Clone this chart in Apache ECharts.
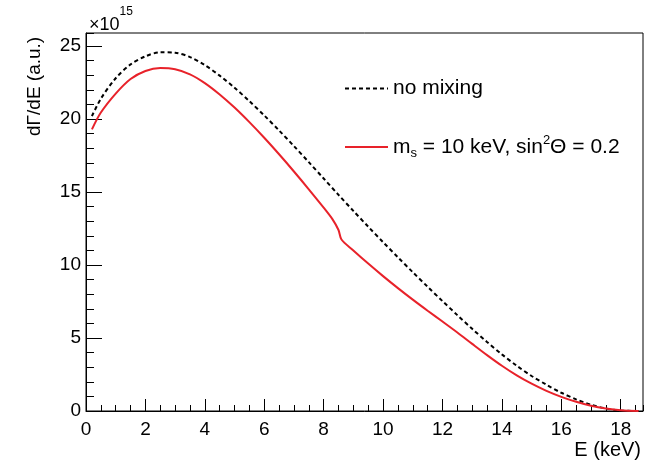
<!DOCTYPE html>
<html>
<head>
<meta charset="utf-8">
<script src="https://cdn.jsdelivr.net/npm/echarts@6/dist/echarts.min.js"></script>
<style>html,body{margin:0;padding:0;background:#fff}#c{width:649px;height:465px}</style>
</head>
<body>
<div id="c"></div>
<script>
// Energy grid (keV) and spectra (units of 1e15, a.u.)
var energyNoMix = [0.2,0.5,1,1.5,2,2.5,3,3.5,4,4.5,5,5.5,6,6.5,7,7.5,8,8.5,9,9.5,10,10.5,11,11.5,12,12.5,13,13.5,14,14.5,15,15.5,16,16.5,17,17.5,18,18.6];
var noMixing   = [20.2,21.4,22.8,23.75,24.3,24.58,24.55,24.25,23.7,22.98,22.15,21.23,20.25,19.22,18.15,17.05,15.93,14.81,13.71,12.63,11.57,10.53,9.51,8.51,7.53,6.57,5.63,4.73,3.88,3.1,2.4,1.8,1.25,0.8,0.43,0.17,0.03,0];

var energyMix = [0.2,0.5,1,1.5,2,2.5,3,3.5,4,4.5,5,5.5,6,6.5,7,7.5,8,8.3,8.5,8.6,9,9.5,10,10.5,11,11.5,12,12.5,13,13.5,14,14.5,15,15.5,16,16.5,17,17.5,18,18.6];
var withMixing = [19.3,20.45,21.75,22.75,23.3,23.5,23.42,23.07,22.47,21.69,20.79,19.79,18.72,17.59,16.41,15.19,13.93,13.13,12.4,11.75,11.0,10.1,9.24,8.42,7.63,6.87,6.13,5.38,4.6,3.83,3.1,2.44,1.87,1.38,0.97,0.63,0.36,0.17,0.05,0];

var xTicks = [0,2,4,6,8,10,12,14,16,18];
var yTicks = [0,5,10,15,20,25];
var xMax = 18.75, yMax = 25.9;

function zip(a,b){ return a.map(function(v,i){ return [v,b[i]]; }); }

var FONT = '"Liberation Sans", Arial, Helvetica, sans-serif';
var chart = echarts.init(document.getElementById('c'), null, {renderer:'canvas'});

var baseX = {
  type:'value', min:0, max:xMax, position:'bottom',
  axisLine:{onZero:false, lineStyle:{color:'#000', width:1}},
  splitLine:{show:false}
};
var baseY = {
  type:'value', min:0, max:yMax, position:'left',
  axisLine:{onZero:false, lineStyle:{color:'#000', width:1}},
  splitLine:{show:false}
};

chart.setOption({
  animation:false,
  backgroundColor:'#fff',
  grid:{left:86, right:6, top:33, bottom:54, show:true, borderColor:'#000', borderWidth:1, backgroundColor:'transparent'},
  title:{
    text:'{a|×10}{b|15}', left:84, top:1,
    textStyle:{fontWeight:'normal', rich:{
      a:{fontFamily:FONT, fontSize:18, fontWeight:'normal', color:'#000', verticalAlign:'bottom', lineHeight:28},
      b:{fontFamily:FONT, fontSize:12, fontWeight:'normal', color:'#000', verticalAlign:'top', lineHeight:28}
    }}
  },
  xAxis:[
    Object.assign({}, baseX, {
      interval:2,
      axisTick:{inside:true, length:12, lineStyle:{color:'#000'}},
      axisLabel:{showMaxLabel:false, margin:9, color:'#000', fontFamily:FONT, fontSize:19,
        formatter:function(v){ return xTicks.indexOf(v) >= 0 ? String(v) : ''; }}
    }),
    Object.assign({}, baseX, {
      interval:0.5,
      axisLine:{show:false},
      axisTick:{inside:true, length:6, lineStyle:{color:'#000'}},
      axisLabel:{show:false}
    })
  ],
  yAxis:[
    Object.assign({}, baseY, {
      interval:5,
      axisTick:{inside:true, length:16, lineStyle:{color:'#000'}},
      axisLabel:{showMaxLabel:false, margin:5, color:'#000', fontFamily:FONT, fontSize:19,
        formatter:function(v){ return yTicks.indexOf(v) >= 0 ? String(v) : ''; }}
    }),
    Object.assign({}, baseY, {
      interval:1,
      axisLine:{show:false},
      axisTick:{inside:true, length:8, lineStyle:{color:'#000'}},
      axisLabel:{show:false}
    })
  ],
  legend:[
    {
      data:['no mixing'], left:339, top:73, itemWidth:43, itemHeight:14,
      itemStyle:{opacity:0},
      textStyle:{fontFamily:FONT, fontSize:21, color:'#000', padding:[0,0,0,0]}
    },
    {
      data:['sterile'], left:339, top:129, itemWidth:43, itemHeight:14,
      itemStyle:{opacity:0},
      formatter:function(){ return '{a|m}{s|s}{a| = 10 keV, sin}{p|2}{a|Θ = 0.2}'; },
      textStyle:{fontFamily:FONT, fontSize:21, color:'#000', padding:[0,0,0,0],
        rich:{
          a:{fontFamily:FONT, fontSize:21, color:'#000', lineHeight:26, verticalAlign:'middle'},
          s:{fontFamily:FONT, fontSize:13, color:'#000', lineHeight:26, verticalAlign:'bottom'},
          p:{fontFamily:FONT, fontSize:13, color:'#000', lineHeight:26, verticalAlign:'top'}
        }}
    }
  ],
  graphic:[
    {type:'text', x:35, y:136, rotation:Math.PI/2,
      style:{text:'dΓ/dE (a.u.)', font:'19px ' + FONT, fill:'#000', textAlign:'left', textVerticalAlign:'middle'}},
    {type:'text', x:641, y:450,
      style:{text:'E (keV)', font:'20px ' + FONT, fill:'#000', textAlign:'right', textVerticalAlign:'middle'}}
  ],
  series:[
    {
      name:'no mixing', type:'line', xAxisIndex:0, yAxisIndex:0,
      data:zip(energyNoMix, noMixing), showSymbol:false, symbol:'none', smooth:0.3,
      lineStyle:{color:'#000', width:2, type:[4,3]}, itemStyle:{color:'#000'}, z:3
    },
    {
      name:'sterile', type:'line', xAxisIndex:0, yAxisIndex:0,
      data:zip(energyMix, withMixing), showSymbol:false, symbol:'none', smooth:0.3,
      lineStyle:{color:'#e8222a', width:2}, itemStyle:{color:'#e8222a'}, z:4
    }
  ]
});
</script>
</body>
</html>
